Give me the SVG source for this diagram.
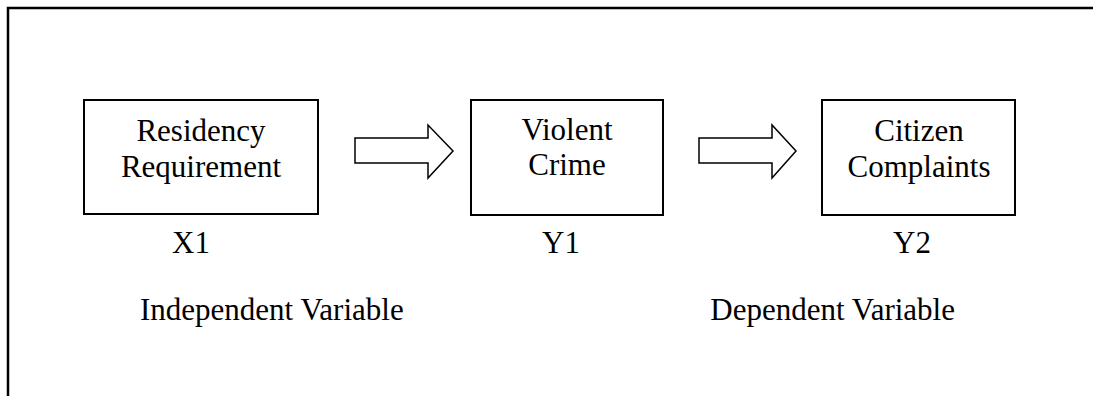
<svg xmlns="http://www.w3.org/2000/svg" width="1093" height="396" viewBox="0 0 1093 396">
<style>
.t{font-family:"Liberation Serif","Times New Roman",serif;font-size:31px;fill:#000}
.box{fill:#fff;stroke:#000;stroke-width:2}
.arr{fill:#fff;stroke:#000;stroke-width:1.5;stroke-linejoin:miter}
</style>
<rect width="1093" height="396" fill="#fff"/>
<g id="frame" fill="none" stroke="#000" stroke-width="2.5">
<path d="M8 396 V8 H1093"/>
</g>
<g id="node-x1">
<rect class="box" x="84" y="100" width="234" height="114"/>
<text class="t" x="201" y="141" text-anchor="middle">Residency</text>
<text class="t" x="201" y="177" text-anchor="middle">Requirement</text>
</g>
<g id="node-y1">
<rect class="box" x="471" y="100" width="192" height="115"/>
<text class="t" x="567" y="140" text-anchor="middle">Violent</text>
<text class="t" x="567" y="175" text-anchor="middle">Crime</text>
</g>
<g id="node-y2">
<rect class="box" x="822" y="100" width="193" height="115"/>
<text class="t" x="919" y="141" text-anchor="middle">Citizen</text>
<text class="t" x="919" y="177" text-anchor="middle">Complaints</text>
</g>
<g id="connectors">
<path class="arr" d="M355 138 H428 V125 L453 151 L428 178 V163 H355 Z"/>
<path class="arr" d="M699 138 H772 V125 L796 151 L772 178 V163 H699 Z"/>
</g>
<g id="labels">
<text class="t" x="172" y="253">X1</text>
<text class="t" x="542" y="253">Y1</text>
<text class="t" x="893" y="253">Y2</text>
<text class="t" x="140" y="320">Independent Variable</text>
<text class="t" x="955" y="320" text-anchor="end">Dependent Variable</text>
</g>
</svg>
